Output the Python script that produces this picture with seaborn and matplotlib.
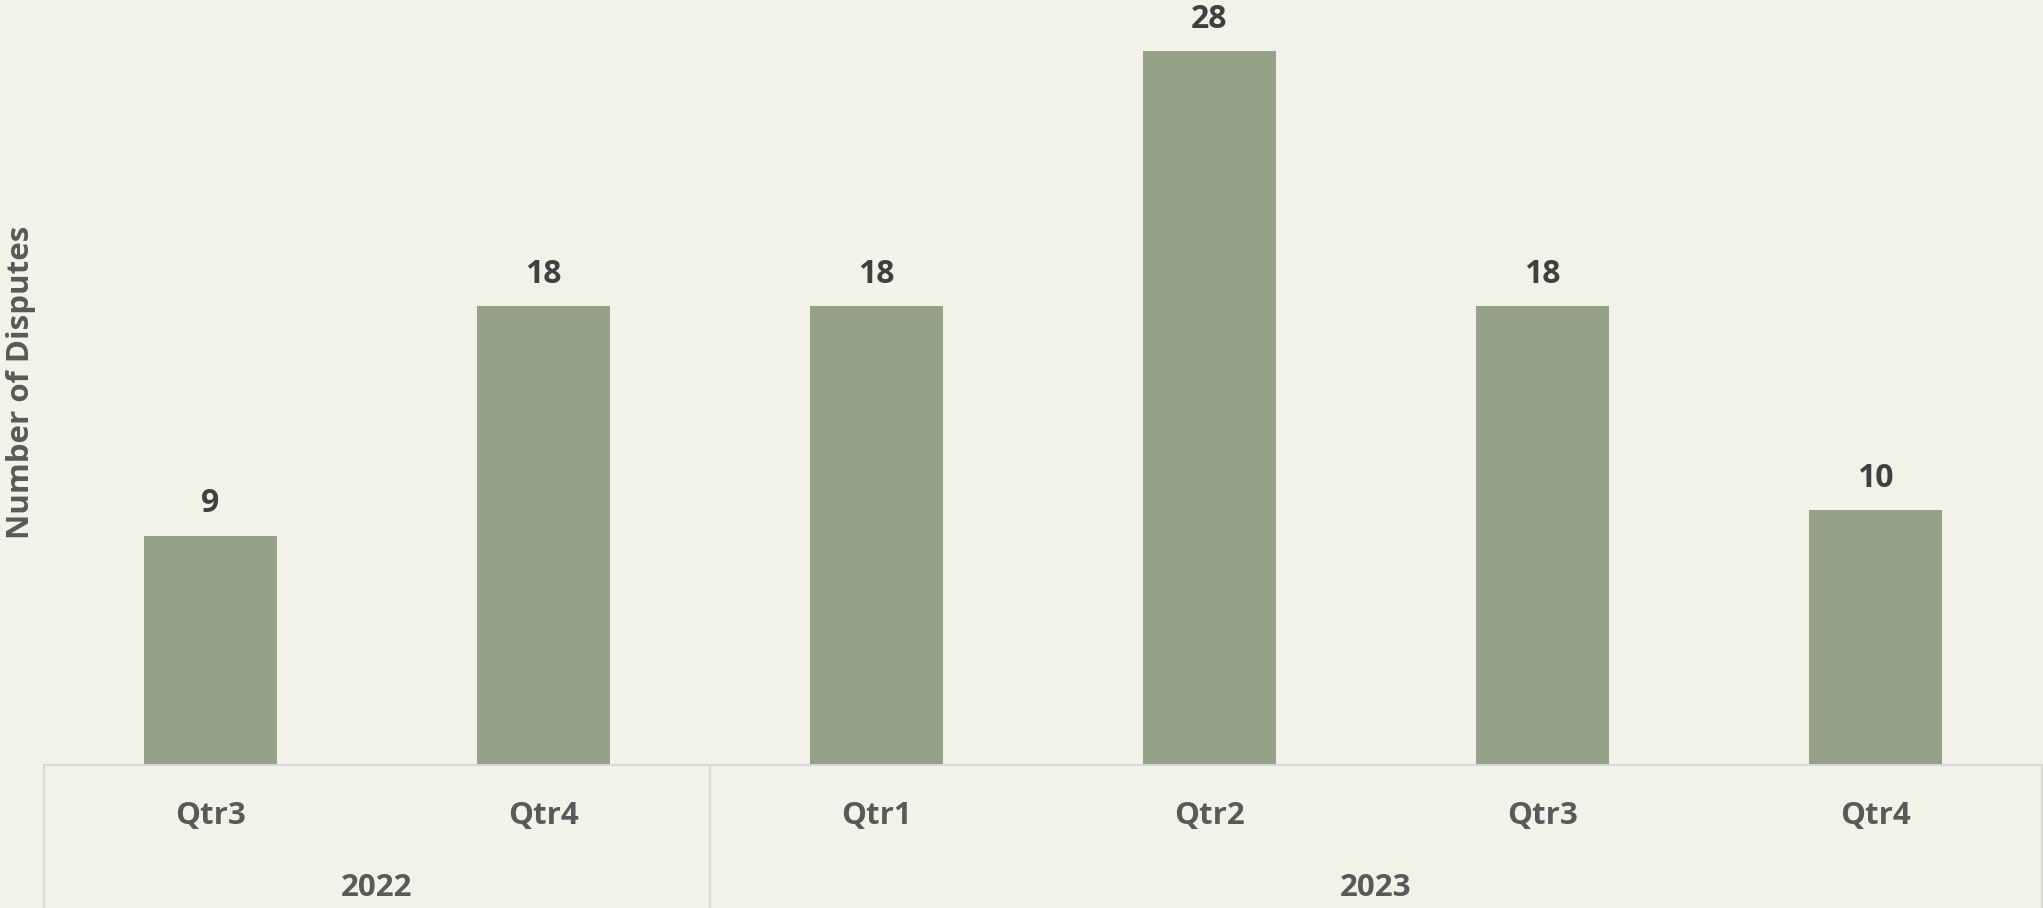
import matplotlib
matplotlib.use("Agg")
import matplotlib.pyplot as plt
import matplotlib.transforms as mtransforms
import pandas as pd
import seaborn as sns

# data
years = ["2022", "2022", "2023", "2023", "2023", "2023"]
quarters = ["Qtr3", "Qtr4", "Qtr1", "Qtr2", "Qtr3", "Qtr4"]
disputes = [9, 18, 18, 28, 18, 10]

bg = "#F2F2E8"
bar_col = "#95A189"
grid_col = "#D9D9D9"

df = pd.DataFrame({"year": years, "quarter": quarters, "disputes": disputes})
df["key"] = df["year"] + " " + df["quarter"]

sns.set_theme(style="white")
plt.rcParams["font.family"] = ["Open Sans", "DejaVu Sans"]
plt.rcParams["font.weight"] = "bold"

fs = 22.5

fig = plt.figure(figsize=(20.43, 9.08), dpi=100, facecolor=bg)
ax = fig.add_axes([44 / 2043, 143 / 908, 1998 / 2043, 765 / 908])
ax.set_facecolor(bg)

sns.barplot(data=df, x="key", y="disputes", color=bar_col, width=0.4,
            saturation=1, linewidth=0, ax=ax)

ax.set_ylim(0, 30)
ax.set_xlim(-0.5, len(df) - 0.5)
ax.set_yticks([])

# data labels
ax.bar_label(ax.containers[0], fontsize=23, fontweight="bold",
             color="#404040", padding=11)

# quarter labels as tick labels
ax.set_xticks(range(len(df)))
ax.set_xticklabels(df["quarter"], fontsize=fs, fontweight="bold", color="#595959")
ax.tick_params(axis="x", length=0, pad=26)
ax.set_xlabel("")

ax.set_ylabel("Number of Disputes", fontsize=fs, fontweight="bold", color="#595959")
ax.yaxis.set_label_coords(-0.004, 0.5)

for s in ["top", "right", "left"]:
    ax.spines[s].set_visible(False)
ax.spines["bottom"].set_color(grid_col)
ax.spines["bottom"].set_linewidth(1.5)

# category table lines below the axis
trans = mtransforms.blended_transform_factory(ax.transData, ax.transAxes)
group_edges = [-0.5, 1.5, len(df) - 0.5]
for xe in group_edges:
    ax.plot([xe, xe], [0, -0.2], color=grid_col, lw=1.5, transform=trans,
            clip_on=False)

# year labels centred under each group
for yr in df["year"].unique():
    idx = df.index[df["year"] == yr]
    ax.text(idx.to_numpy().mean(), -0.161, yr, transform=trans, ha="center",
            va="center", fontsize=fs, fontweight="bold", color="#595959")

fig.savefig("out.png", dpi=100, facecolor=bg)
